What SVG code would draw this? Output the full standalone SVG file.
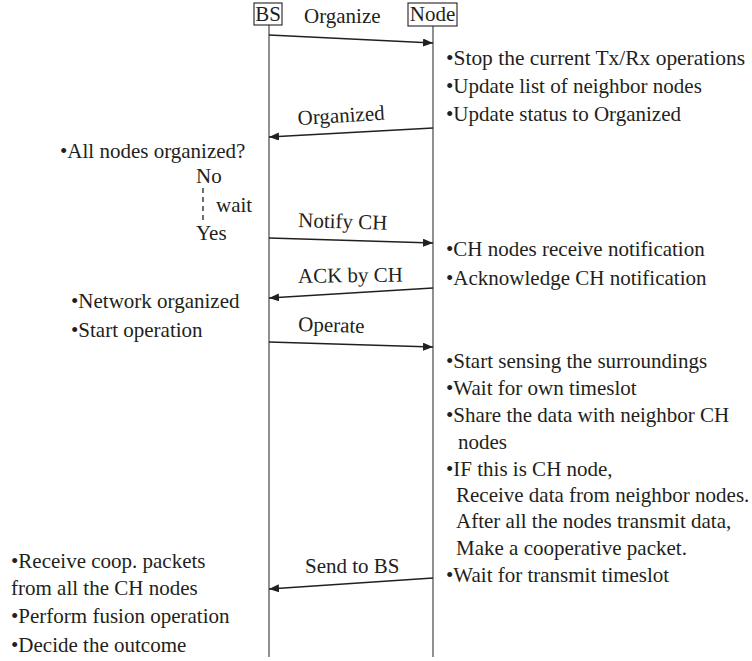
<svg xmlns="http://www.w3.org/2000/svg" width="752" height="661" viewBox="0 0 752 661">
<defs>
<style>
text{font-family:"Liberation Serif","Times New Roman",serif;font-size:21px;fill:#231f20}
.box{fill:#fff;stroke:#231f20;stroke-width:1.1}
.life{stroke:#555;stroke-width:1.3;fill:none}
.msg{stroke:#231f20;stroke-width:1.4;fill:none}
.dash{stroke:#231f20;stroke-width:1.3;stroke-dasharray:5 4;fill:none}
</style>
<marker id="ah" viewBox="0 0 10 8" refX="10" refY="4" markerWidth="10" markerHeight="8" markerUnits="userSpaceOnUse" orient="auto">
<path d="M0,0 L10,4 L0,8 Z" fill="#231f20"/>
</marker>
</defs>
<rect width="752" height="661" fill="#fff"/>
<g id="lifelines">
<line class="life" x1="269" y1="25" x2="269" y2="657"/>
<line class="life" x1="433" y1="26" x2="433" y2="657"/>
</g>
<g id="BS">
<rect class="box" x="254" y="3" width="28" height="22"/>
<text x="268" y="21" text-anchor="middle">BS</text>
</g>
<g id="Node">
<rect class="box" x="408" y="3" width="49" height="23"/>
<text x="432.5" y="21" text-anchor="middle">Node</text>
</g>
<g id="connectors">
<line class="msg" x1="269" y1="35" x2="433" y2="43" marker-end="url(#ah)"/>
<line class="msg" x1="433" y1="128" x2="269" y2="137" marker-end="url(#ah)"/>
<line class="msg" x1="269" y1="238" x2="433" y2="243" marker-end="url(#ah)"/>
<line class="msg" x1="433" y1="288" x2="269" y2="298" marker-end="url(#ah)"/>
<line class="msg" x1="269" y1="342" x2="433" y2="347" marker-end="url(#ah)"/>
<line class="msg" x1="433" y1="578" x2="269" y2="589" marker-end="url(#ah)"/>
<line class="dash" x1="203" y1="188" x2="203" y2="221"/>
</g>
<g id="labels">
<text x="304" y="23">Organize</text>
<text x="298" y="125" transform="rotate(-3.5 298 125)">Organized</text>
<text x="298" y="227" transform="rotate(1.7 298 227)">Notify CH</text>
<text x="298" y="283" transform="rotate(-0.8 298 283)">ACK by CH</text>
<text x="298" y="331" transform="rotate(1.7 298 331)">Operate</text>
<text x="305" y="573">Send to BS</text>
</g>
<g id="node-notes">
<text x="446" y="65" textLength="299" lengthAdjust="spacingAndGlyphs">•Stop the current Tx/Rx operations</text>
<text x="446" y="93">•Update list of neighbor nodes</text>
<text x="446" y="121">•Update status to Organized</text>
<text x="446" y="256">•CH nodes receive notification</text>
<text x="446" y="285">•Acknowledge CH notification</text>
<text x="446" y="368">•Start sensing the surroundings</text>
<text x="446" y="395">•Wait for own timeslot</text>
<text x="446" y="422">•Share the data with neighbor CH</text>
<text x="458" y="449">nodes</text>
<text x="446" y="476">•IF this is CH node,</text>
<text x="456" y="502">Receive data from neighbor nodes.</text>
<text x="456" y="528">After all the nodes transmit data,</text>
<text x="456" y="555">Make a cooperative packet.</text>
<text x="446" y="582">•Wait for transmit timeslot</text>
</g>
<g id="bs-notes">
<text x="60" y="158">•All nodes organized?</text>
<text x="196" y="183">No</text>
<text x="216" y="212">wait</text>
<text x="196" y="240">Yes</text>
<text x="71" y="308">•Network organized</text>
<text x="71" y="337">•Start operation</text>
<text x="11" y="568">•Receive coop. packets</text>
<text x="11" y="595">from all the CH nodes</text>
<text x="11" y="623">•Perform fusion operation</text>
<text x="11" y="652">•Decide the outcome</text>
</g>
</svg>
